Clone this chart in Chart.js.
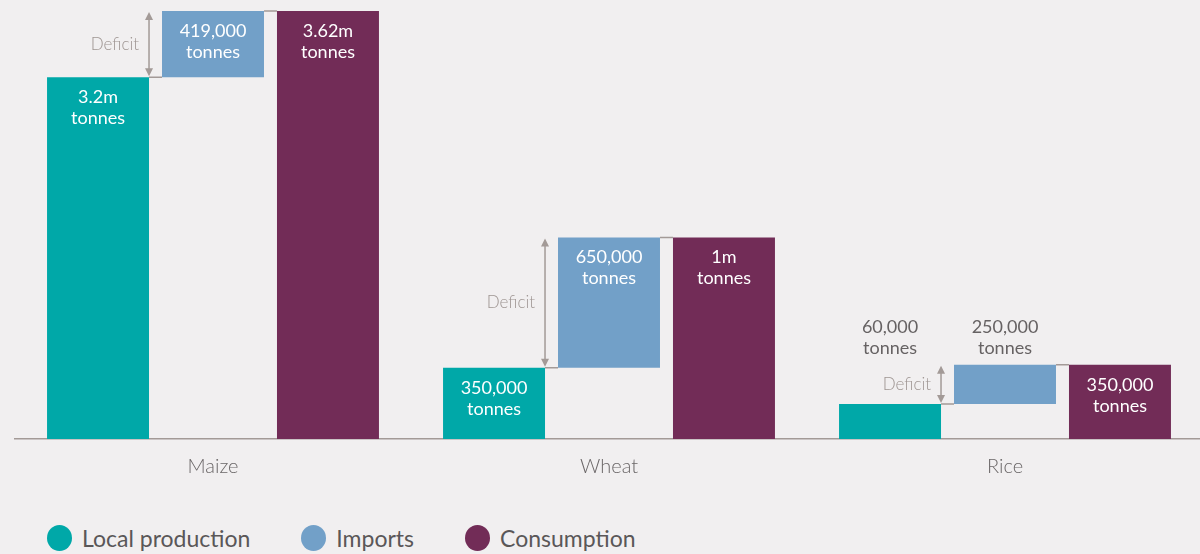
<!DOCTYPE html>
<html>
<head>
<meta charset="utf-8">
<script src="https://cdn.jsdelivr.net/npm/chart.js@4.4.1/dist/chart.umd.min.js"></script>
<style>
  html, body { margin: 0; padding: 0; background: #f1eff0; overflow: hidden; }
  #wrap { position: relative; width: 1200px; height: 554px; overflow: hidden; }
  #box { position: absolute; left: 0; top: 0; width: 1203px; height: 487px; }
  #legend { position: absolute; left: 47px; top: 524px; display: flex; align-items: center;
            font-family: Lato, "Open Sans", sans-serif; font-size: 23px; color: #5a5758; }
  .item { display: flex; align-items: center; margin-right: 51px; }
  .dot { width: 25px; height: 26px; border-radius: 50%; margin-right: 10px; }
</style>
</head>
<body>
<div id="wrap">
  <div id="box"><canvas id="grafico"></canvas></div>
  <div id="legend"></div>
</div>
<script>
// Categorías del eje X
const categorias = ['Maize', 'Wheat', 'Rice'];

// Alturas dibujadas en la figura (escala ilustrativa, no lineal)
const produccionLocal = [361, 71, 35];
const importaciones = [[361, 427], [71, 201], [35, 74]];
const consumo = [427, 201, 74];

// Textos de cada barra
const textoLocal = ['3.2m', '350,000', '60,000'];
const textoImport = ['419,000', '650,000', '250,000'];
const textoConsumo = ['3.62m', '1m', '350,000'];

const series = ['Local production', 'Imports', 'Consumption'];
const colores = ['#00a8a8', '#72a0c8', '#722c57'];

// Plugin para etiquetas, conectores y flechas de déficit
const anotaciones = {
  id: 'anotaciones',
  afterDatasetsDraw(chart) {
    const ctx = chart.ctx;
    const textos = [textoLocal, textoImport, textoConsumo];
    ctx.save();
    categorias.forEach((c, i) => {
      const loc = chart.getDatasetMeta(0).data[i];
      const imp = chart.getDatasetMeta(1).data[i];
      const con = chart.getDatasetMeta(2).data[i];

      // líneas conectoras
      ctx.strokeStyle = '#a39a97';
      ctx.lineWidth = 1.5;
      ctx.beginPath();
      ctx.moveTo(loc.x + loc.width / 2, loc.y);
      ctx.lineTo(imp.x - imp.width / 2, imp.base);
      ctx.moveTo(imp.x + imp.width / 2, imp.y);
      ctx.lineTo(con.x - con.width / 2, con.y);
      ctx.stroke();

      // flecha doble del déficit
      const ax = loc.x + loc.width / 2;
      const y1 = imp.y + 1, y2 = imp.base - 1;
      ctx.beginPath();
      ctx.moveTo(ax, y1 + 2);
      ctx.lineTo(ax, y2 - 2);
      ctx.stroke();
      ctx.fillStyle = '#a39a97';
      ctx.beginPath();
      ctx.moveTo(ax, y1); ctx.lineTo(ax - 4, y1 + 8); ctx.lineTo(ax + 4, y1 + 8); ctx.closePath();
      ctx.moveTo(ax, y2); ctx.lineTo(ax - 4, y2 - 8); ctx.lineTo(ax + 4, y2 - 8); ctx.closePath();
      ctx.fill();
      ctx.font = '300 17px Lato, "Open Sans", sans-serif';
      ctx.textAlign = 'right';
      ctx.textBaseline = 'middle';
      ctx.fillStyle = '#9e9592';
      ctx.fillText('Deficit', ax - 10, (y1 + y2) / 2);

      // etiquetas de valores
      ctx.font = '18px Lato, "Open Sans", sans-serif';
      ctx.textAlign = 'center';
      [loc, imp, con].forEach((el, k) => {
        const alto = Math.abs(el.base - el.y);
        const top = Math.min(el.y, el.base);
        let yA, yB;
        if (alto < 50) {
          ctx.fillStyle = '#666263';
          yA = imp.y - 38; yB = imp.y - 17;
        } else {
          ctx.fillStyle = '#ffffff';
          yA = top + 20; yB = top + 41;
        }
        ctx.fillText(textos[k][i], el.x, yA);
        ctx.fillText('tonnes', el.x, yB);
      });
    });
    ctx.restore();
  }
};

const grafico = new Chart(document.getElementById('grafico'), {
  type: 'bar',
  data: {
    labels: categorias,
    datasets: [
      { label: series[0], data: produccionLocal, backgroundColor: colores[0] },
      { label: series[1], data: importaciones, backgroundColor: colores[1] },
      { label: series[2], data: consumo, backgroundColor: colores[2] }
    ]
  },
  options: {
    responsive: true,
    maintainAspectRatio: false,
    animation: false,
    categoryPercentage: 0.871,
    barPercentage: 0.887,
    layout: { padding: { top: 11, left: 15, right: 0, bottom: 0 } },
    scales: {
      x: {
        grid: { display: false },
        border: { color: '#a39a97', width: 1.5 },
        ticks: { color: '#6a6667', font: { family: 'Lato, "Open Sans", sans-serif', size: 20, weight: 300 }, padding: 8 }
      },
      y: { display: false, min: 0, max: 427 }
    },
    plugins: {
      legend: { display: false },
      tooltip: { enabled: false }
    }
  },
  plugins: [anotaciones]
});

// Leyenda HTML
const leyenda = document.getElementById('legend');
series.forEach((s, i) => {
  const d = document.createElement('div');
  d.className = 'item';
  d.innerHTML = `<span class="dot" style="background:${colores[i]}"></span>${s}`;
  leyenda.appendChild(d);
});
</script>
</body>
</html>
